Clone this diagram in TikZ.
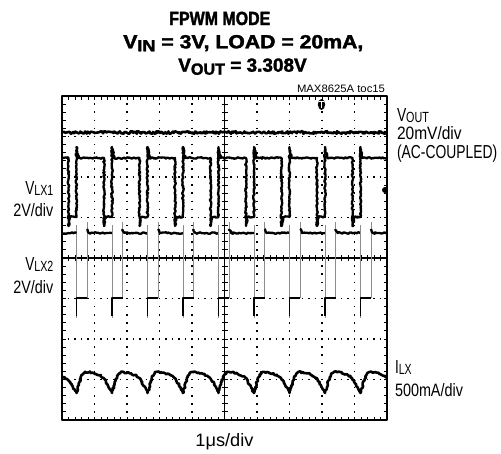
\documentclass[tikz,border=0pt]{standalone}
\usepackage{fontspec}
\setmainfont{Liberation Sans}[FakeStretch=0.78]
\newfontfamily\heavyfont{Liberation Sans}[FakeStretch=0.78, BoldFeatures={FakeBold=1.6}]
\usetikzlibrary{decorations.pathmorphing}
\newcommand{\Sb}[1]{\raisebox{-0.12ex}{\scalebox{0.78}{#1}}}
\newcommand{\Tb}[1]{\raisebox{-0.3ex}{\scalebox{0.85}{#1}}}
\tikzset{
  lbl/.style={inner sep=0pt, outer sep=0pt},
  frame/.style={line width=2.4pt},
  axisline/.style={line width=1.3pt},
  tickmark/.style={line width=0.9pt},
  hdots/.style={line width=1.6pt, dash pattern=on 1.6pt off 4.9pt},
  vdots/.style={line width=1.6pt, dash pattern=on 1.6pt off 6.5pt},
  noisy/.style={decorate, decoration={random steps, segment length=1.4pt, amplitude=0.8pt}},
  trace/.style={line width=2.3pt, black},
  fast/.style={line width=0.5pt, black!45},
}
\begin{document}
\begin{tikzpicture}[x=1pt,y=-1pt,line join=round]
\useasboundingbox (0,0) rectangle (501,453);
\pgfmathsetseed{4242}
% grid
\foreach \k in {1,2,3,5,6,7} \draw[hdots] (61.2,{96+40.5*\k}) -- (387,{96+40.5*\k});
\foreach \k in {1,2,3,4,6,7,8,9} \draw[vdots] ({62+32.5*\k},95.2) -- ({62+32.5*\k},420);
\draw[axisline] (62,258) -- (387,258);
\draw[axisline] (224.5,96) -- (224.5,420);
\foreach \i in {1,...,49} {
  \draw[tickmark] ({62+6.5*\i},255) -- ({62+6.5*\i},261);
  \draw[tickmark] ({62+6.5*\i},96) -- ++(0,3.5);
  \draw[tickmark] ({62+6.5*\i},420) -- ++(0,-3.5);
}
\foreach \j in {1,...,39} {
  \draw[tickmark] (221.5,{96+8.1*\j}) -- (227.5,{96+8.1*\j});
  \draw[tickmark] (62,{96+8.1*\j}) -- ++(3.5,0);
  \draw[tickmark] (387,{96+8.1*\j}) -- ++(-3.5,0);
}
\begin{scope}
\clip (62,96) rectangle (387,420);
% VOUT
\draw[trace, line width=2.6pt, decorate, decoration={random steps, segment length=1.2pt, amplitude=1.3pt}] (62,132.5) -- (387,132.5);
% VLX1
\draw[trace, noisy] (62,158)
  \foreach \k in {0,...,8} {
    -- ({68.5+35.5*\k},158) -- ({68.5+35.5*\k},226) -- ({70+35.5*\k},217)
    -- ({76.5+35.5*\k},217) -- ({76.5+35.5*\k},147) -- ({78.5+35.5*\k},158)
  } -- (387,158);
% VLX2
\foreach \k in {0,...,8} {
  \draw[fast] ({76.5+35.5*\k},225) -- ({76.5+35.5*\k},318);
  \draw[fast] ({87+35.5*\k},298) -- ({87+35.5*\k},222);
  \draw[trace, line width=1.8pt] ({76.5+35.5*\k},316) -- ({76.5+35.5*\k},298) -- ({87+35.5*\k},298);
  \draw[trace, noisy] ({87+35.5*\k},229) -- ({89+35.5*\k},233) -- ({112+35.5*\k},233);
}
\draw[trace, noisy] (62,233) -- (76.5,233);
% ILX
\draw[trace, line width=2.6pt, noisy] (62,376.5) .. controls (68,378) and (73,386) .. (76.5,393)
  \foreach \k in {0,...,8} {
    .. controls ({79.5+35.5*\k},383) and ({81.5+35.5*\k},373) .. ({85.5+35.5*\k},372)
    .. controls ({92.5+35.5*\k},372) and ({100.5+35.5*\k},375) .. ({103.5+35.5*\k},378)
    .. controls ({106.5+35.5*\k},382) and ({109.5+35.5*\k},388) .. ({112+35.5*\k},393)
  };
\end{scope}
\draw[frame] (62,96) rectangle (387,420);
% markers
\fill (321.5,104.5) ellipse (3.6pt and 5.5pt);
\draw[white, line width=0.9pt] (319.3,101.5) -- (323.7,101.5) (321.5,101.5) -- (321.5,107.5);
\fill (385,190) circle (3pt);
% texts
\node[lbl, anchor=base west] (t1) at (169.3,25) {\resizebox{101pt}{13.3pt}{\heavyfont\bfseries FPWM MODE}};
\node[lbl, anchor=base west] (t2) at (123.3,48.3) {\resizebox{240pt}{13.3pt}{\heavyfont\bfseries V\Tb{IN} = 3V, LOAD = 20mA,}};
\node[lbl, anchor=base west] (t3) at (178.3,71.7) {\resizebox{128.4pt}{13.3pt}{\heavyfont\bfseries V\Tb{OUT} = 3.308V}};
\node[lbl, anchor=base west] (toc) at (297,92) {\resizebox{88pt}{7.5pt}{MAX8625A toc15}};
\node[lbl, anchor=base west] (vo1) at (397,121.7) {\resizebox{32pt}{13pt}{V\Sb{OUT}}};
\node[lbl, anchor=base west] (vo2) at (397,139.3) {\resizebox{64.7pt}{13pt}{20mV/div}};
\node[lbl, anchor=base west] (vo3) at (397,158.3) {\resizebox{100.3pt}{13.6pt}{(AC-COUPLED)}};
\node[lbl, anchor=base east] (l1a) at (53.3,194) {\resizebox{28pt}{13pt}{V\Sb{LX1}}};
\node[lbl, anchor=base east] (l1b) at (53.3,216.7) {\resizebox{40pt}{13pt}{2V/div}};
\node[lbl, anchor=base east] (l2a) at (53.3,270) {\resizebox{28pt}{13pt}{V\Sb{LX2}}};
\node[lbl, anchor=base east] (l2b) at (53.3,293) {\resizebox{40pt}{13pt}{2V/div}};
\node[lbl, anchor=base west] (ia) at (395,373.3) {\resizebox{16.7pt}{13pt}{I\Sb{LX}}};
\node[lbl, anchor=base west] (ib) at (395,396.7) {\resizebox{68pt}{13pt}{500mA/div}};
\node[lbl, anchor=base] (tb) at (224.5,446) {\resizebox{58pt}{13pt}{1μs/div}};
\end{tikzpicture}
\end{document}
